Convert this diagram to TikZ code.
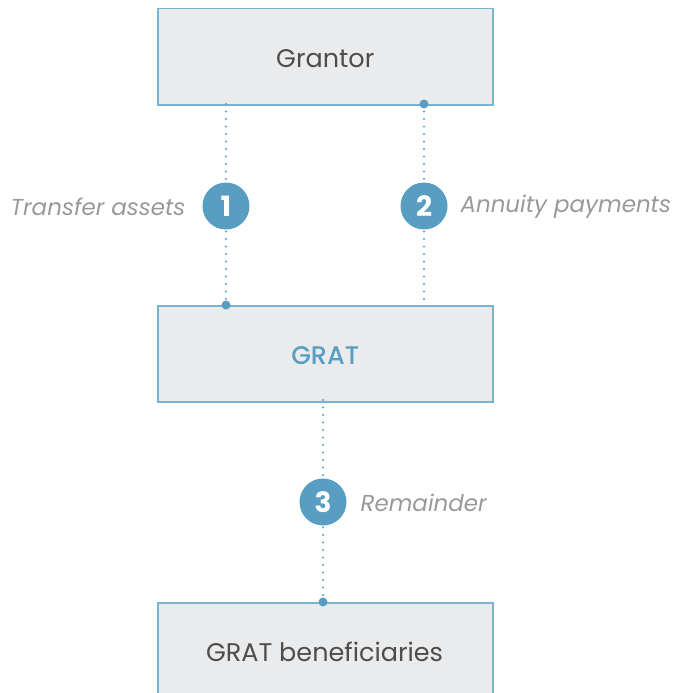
\documentclass[tikz,border=0pt]{standalone}
\usepackage{fontspec}
\setmainfont{Poppins}
\newfontfamily\medfont{Poppins Medium}
\definecolor{boxfill}{HTML}{E9EBED}
\definecolor{boxline}{HTML}{7AB3CF}
\definecolor{accent}{HTML}{579EC2}
\definecolor{darktext}{HTML}{4D4D4D}
\definecolor{labeltext}{HTML}{999999}
\begin{document}
\begin{tikzpicture}[x=1pt,y=-1pt,
  box/.style={draw=boxline,line width=1.5pt,fill=boxfill,minimum width=335pt,minimum height=96pt,inner sep=0pt,anchor=north west},
  boxtext/.style={font=\fontsize{25.5}{28}\selectfont,text=darktext},
  numcirc/.style={circle,fill=accent,minimum size=47pt,inner sep=0pt,text=white,font=\fontsize{28}{30}\selectfont\bfseries},
  lbl/.style={font=\fontsize{23}{26}\selectfont\itshape,text=labeltext},
  dotline/.style={accent,line width=2.4pt,line cap=round,dash pattern=on 0pt off 7.5pt},
  enddot/.style={circle,fill=accent,minimum size=9pt,inner sep=0pt}]
\useasboundingbox (0,0) rectangle (677,693);
% boxes
\node[box] (grantor) at (157,8) {};
\node[boxtext] at ([yshift=-2pt]grantor.center) {Grantor};
\node[box] (grat) at (157,305) {};
\node[boxtext,text=accent,font=\fontsize{25.5}{28}\medfont] at ([yshift=-2pt]grat.center) {GRAT};
\node[box,minimum height=100pt] (ben) at (157,602) {};
\node[boxtext] at (324.5,652) {GRAT beneficiaries};
% coordinates
\coordinate (a1) at (226,104);
\coordinate (b1) at (226,305);
\coordinate (a2) at (424,104);
\coordinate (b2) at (424,305);
\coordinate (a3) at (323,400);
\coordinate (b3) at (323,602);
% dotted lines
\draw[dotline] (a1) -- (b1);
\draw[dotline] (a2) -- (b2);
\draw[dotline] (a3) -- (b3);
% end dots
\node[enddot] (d2) at (a2) {};
\node[enddot] (d1) at (b1) {};
\node[enddot] (d3) at (b3) {};
% circles
\node[numcirc] (c1) at (226,206) {1};
\node[numcirc] (c2) at (424,206) {2};
\node[numcirc] (c3) at (323,502) {3};
% labels
\node[lbl,anchor=east] (l1) at (189,207) {Transfer assets};
\node[lbl,anchor=west] (l2) at (457,207) {Annuity payments};
\node[lbl,anchor=west] (l3) at (357,503) {Remainder};
\end{tikzpicture}
\end{document}
